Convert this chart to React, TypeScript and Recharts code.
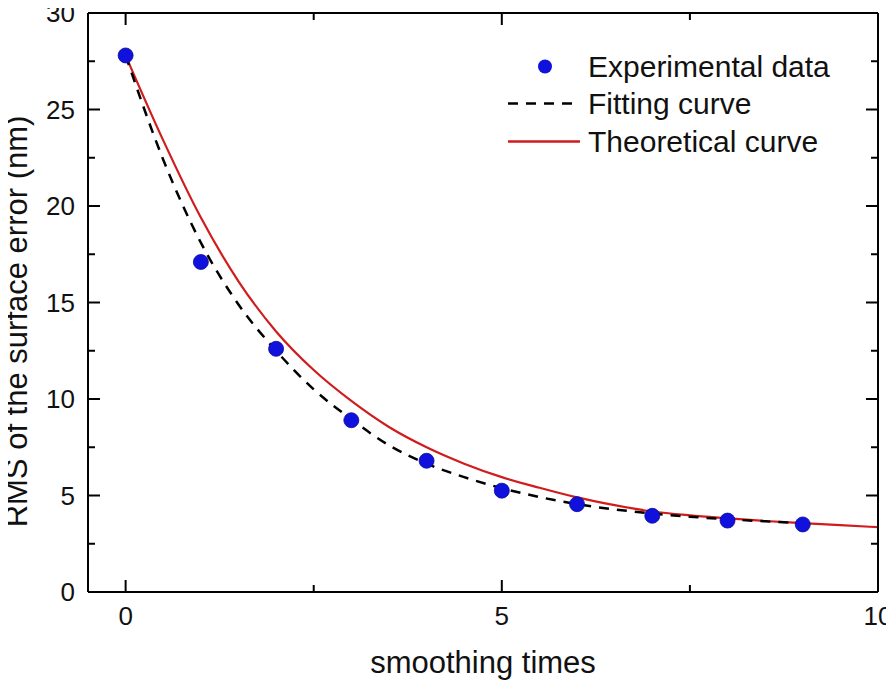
import React from 'react';
import { ComposedChart, XAxis, YAxis, Line, Scatter, Legend } from 'recharts';

// Experimental data
const expX = [0, 1, 2, 3, 4, 5, 6, 7, 8, 9];
const expY = [27.8, 17.1, 12.6, 8.9, 6.8, 5.25, 4.55, 3.95, 3.7, 3.5];

// Fitting curve
const fitX = [0, 0.5, 1, 1.5, 2, 2.5, 3, 3.5, 4, 4.5, 5, 5.5, 6, 6.5, 7, 7.5, 8, 8.5, 9];
const fitY = [27.8, 22.4, 18.1, 14.9, 12.5, 10.5, 8.95, 7.6, 6.65, 5.95, 5.38, 4.92, 4.55, 4.28, 4.07, 3.9, 3.77, 3.66, 3.57];

// Theoretical curve
const theoX = [0, 0.5, 1, 1.5, 2, 2.5, 3, 3.5, 4, 4.5, 5, 5.5, 6, 6.5, 7, 7.5, 8, 8.5, 9, 9.5, 10];
const theoY = [27.8, 23.4, 19.4, 16.1, 13.5, 11.5, 9.9, 8.55, 7.5, 6.65, 5.95, 5.4, 4.9, 4.5, 4.17, 3.97, 3.82, 3.68, 3.57, 3.46, 3.36];

const xTicks = [0, 2.5, 5, 7.5, 10];
const yTicks = [0, 2.5, 5, 7.5, 10, 12.5, 15, 17.5, 20, 22.5, 25, 27.5, 30];

const xTitle = 'smoothing times';
const yTitle = 'RMS of the surface error (nm)';
const legendLabels = ['Experimental data', 'Fitting curve', 'Theoretical curve'];

const expData = expX.map((x, i) => ({ x, y: expY[i] }));
const fitData = fitX.map((x, i) => ({ x, y: fitY[i] }));
const theoData = theoX.map((x, i) => ({ x, y: theoY[i] }));

const FONT = '"Liberation Sans", Arial, Helvetica, sans-serif';
const BLUE = '#1111dd';
const RED = '#d01c1c';
const TXT = '#111';

const isMajor = (v: number) => Math.abs(v % 5) < 1e-9;

const LeftTick = (props: any) => {
  const { x, y, payload } = props;
  const major = isMajor(payload.value);
  return (
    <g>
      <line x1={x} x2={x + (major ? 12 : 7)} y1={y} y2={y} stroke="#000" strokeWidth={2} />
      {major && (
        <text x={x - 13} y={y + 9} textAnchor="end" fontSize={26} fontFamily={FONT} fill={TXT}>
          {payload.value}
        </text>
      )}
    </g>
  );
};

const RightTick = (props: any) => {
  const { x, y, payload } = props;
  const major = isMajor(payload.value);
  return <line x1={x} x2={x - (major ? 12 : 7)} y1={y} y2={y} stroke="#000" strokeWidth={2} />;
};

const BottomTick = (props: any) => {
  const { x, y, payload } = props;
  const major = isMajor(payload.value);
  return (
    <g>
      <line x1={x} x2={x} y1={y} y2={y - (major ? 12 : 7)} stroke="#000" strokeWidth={2} />
      {major && (
        <text x={x} y={y + 33} textAnchor="middle" fontSize={26} fontFamily={FONT} fill={TXT}>
          {payload.value}
        </text>
      )}
    </g>
  );
};

const TopTick = (props: any) => {
  const { x, y, payload } = props;
  const major = isMajor(payload.value);
  return <line x1={x} x2={x} y1={y} y2={y + (major ? 12 : 7)} stroke="#000" strokeWidth={2} />;
};

const XLabel = (props: any) => {
  const vb = props.viewBox;
  return (
    <text x={vb.x + vb.width / 2} y={vb.y + 81} textAnchor="middle" fontSize={31} fontFamily={FONT} fill={TXT}>
      {xTitle}
    </text>
  );
};

const YLabel = (props: any) => {
  const vb = props.viewBox;
  const cx = vb.x + 27;
  const cy = vb.y + vb.height / 2 + 19;
  return (
    <text x={cx} y={cy} transform={`rotate(-90, ${cx}, ${cy})`} textAnchor="middle" fontSize={31} fontFamily={FONT} fill={TXT}>
      {yTitle}
    </text>
  );
};

const LegendContent = () => (
  <svg width={360} height={130} style={{ overflow: 'visible' }}>
    <circle cx={47} cy={18.5} r={7} fill={BLUE} />
    <text x={90} y={29} fontSize={30} fontFamily={FONT} fill={TXT}>{legendLabels[0]}</text>
    <line x1={10} x2={82} y1={55.5} y2={55.5} stroke="#000" strokeWidth={2.5} strokeDasharray="10 8" />
    <text x={90} y={66} fontSize={30} fontFamily={FONT} fill={TXT}>{legendLabels[1]}</text>
    <line x1={10} x2={82} y1={93.5} y2={93.5} stroke={RED} strokeWidth={2.5} />
    <text x={90} y={104} fontSize={30} fontFamily={FONT} fill={TXT}>{legendLabels[2]}</text>
  </svg>
);

const Dot = (props: any) => {
  const { cx, cy } = props;
  return <circle cx={cx} cy={cy} r={7.5} fill={BLUE} stroke="#0a0a9a" strokeWidth={0.8} />;
};

export default function App() {
  return (
    <div style={{ width: 894, height: 683, marginLeft: -8, marginTop: -8 }}>
      <style>{'html,body{overflow:hidden}'}</style>
      <ComposedChart width={894} height={683} margin={{ top: 0, right: 0, bottom: 0, left: 0 }}>
        <XAxis
          xAxisId="bottom"
          dataKey="x"
          type="number"
          domain={[-0.5, 10]}
          ticks={xTicks}
          interval={0}
          allowDataOverflow
          height={91}
          tickSize={0}
          tickMargin={0}
          tickLine={false}
          axisLine={{ stroke: '#000', strokeWidth: 2 }}
          tick={<BottomTick />}
          label={<XLabel />}
        />
        <XAxis
          xAxisId="top"
          orientation="top"
          dataKey="x"
          type="number"
          domain={[-0.5, 10]}
          ticks={xTicks}
          interval={0}
          allowDataOverflow
          height={13}
          tickSize={0}
          tickMargin={0}
          tickLine={false}
          axisLine={{ stroke: '#000', strokeWidth: 2 }}
          tick={<TopTick />}
        />
        <YAxis
          yAxisId="left"
          type="number"
          domain={[0, 30]}
          ticks={yTicks}
          interval={0}
          allowDataOverflow
          width={88}
          tickSize={0}
          tickMargin={0}
          tickLine={false}
          axisLine={{ stroke: '#000', strokeWidth: 2 }}
          tick={<LeftTick />}
          label={<YLabel />}
        />
        <YAxis
          yAxisId="right"
          orientation="right"
          type="number"
          domain={[0, 30]}
          ticks={yTicks}
          interval={0}
          allowDataOverflow
          width={16}
          tickSize={0}
          tickMargin={0}
          tickLine={false}
          axisLine={{ stroke: '#000', strokeWidth: 2 }}
          tick={<RightTick />}
        />
        <Line
          xAxisId="bottom"
          yAxisId="left"
          data={theoData}
          dataKey="y"
          type="monotone"
          stroke={RED}
          strokeWidth={2.2}
          dot={false}
          activeDot={false}
          isAnimationActive={false}
        />
        <Line
          xAxisId="bottom"
          yAxisId="left"
          data={fitData}
          dataKey="y"
          type="monotone"
          stroke="#000"
          strokeWidth={2.5}
          strokeDasharray="10 8"
          dot={false}
          activeDot={false}
          isAnimationActive={false}
        />
        <Scatter
          xAxisId="bottom"
          yAxisId="left"
          data={expData}
          dataKey="y"
          shape={<Dot />}
          isAnimationActive={false}
        />
        <Legend
          layout="horizontal"
          verticalAlign="middle"
          align="center"
          content={<LegendContent />}
          wrapperStyle={{ position: 'absolute', left: 498, top: 48, width: 360, height: 130 }}
        />
      </ComposedChart>
    </div>
  );
}
